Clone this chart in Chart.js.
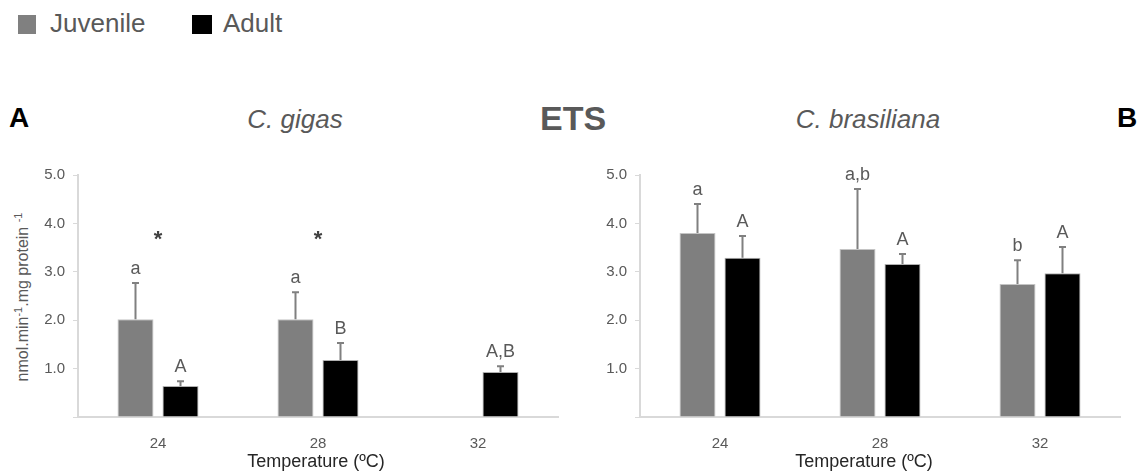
<!DOCTYPE html>
<html>
<head>
<meta charset="utf-8">
<title>ETS – C. gigas and C. brasiliana</title>
<script src="https://cdn.jsdelivr.net/npm/chart.js@4.4.1/dist/chart.umd.min.js"></script>
<style>
  html, body { margin: 0; padding: 0; background: #fff; }
  body {
    width: 1144px; height: 472px; position: relative; overflow: hidden;
    font-family: "Liberation Sans", Arial, Helvetica, sans-serif;
  }
  .panel { position: absolute; top: 0; }
  .txt { position: absolute; line-height: 1; white-space: nowrap; }
  .center { transform: translateX(-50%); }
  .box { position: absolute; }
  #ytitle {
    position: absolute; left: 23px; top: 297px; white-space: nowrap;
    font-size: 16px; line-height: 1; color: #595959;
    transform: translate(-50%, -50%) rotate(-90deg);
  }
  #ytitle sup { font-size: 11px; line-height: 0; vertical-align: 6px; }
</style>
</head>
<body>

<!-- legend -->
<div class="box" style="left:18px;top:15px;width:18px;height:19px;background:#808080"></div>
<div class="txt" style="left:50px;top:10px;font-size:26px;color:#595959">Juvenile</div>
<div class="box" style="left:192px;top:15px;width:20px;height:19px;background:#000"></div>
<div class="txt" style="left:223px;top:10px;font-size:26px;color:#595959">Adult</div>

<!-- headings -->
<div class="txt" style="left:9px;top:104px;font-size:28px;font-weight:bold;color:#000">A</div>
<div class="txt center" style="left:295px;top:106px;font-size:26px;font-style:italic;color:#595959">C. gigas</div>
<div class="txt" style="left:540px;top:101px;font-size:34px;font-weight:bold;color:#595959">ETS</div>
<div class="txt center" style="left:868px;top:106px;font-size:26px;font-style:italic;color:#595959">C. brasiliana</div>
<div class="txt" style="left:1117px;top:104px;font-size:28px;font-weight:bold;color:#000">B</div>

<div id="ytitle">nmol.min<sup>-1</sup>.mg protein <sup>-1</sup></div>

<div class="panel" style="left:0;width:600px;height:472px"><canvas id="chartA" width="600" height="472"></canvas></div>
<div class="panel" style="left:600px;width:544px;height:472px"><canvas id="chartB" width="544" height="472"></canvas></div>

<div class="txt center" style="left:316px;top:452px;font-size:18px;color:#262626">Temperature (ºC)</div>
<div class="txt center" style="left:864px;top:452px;font-size:18px;color:#262626">Temperature (ºC)</div>

<script>
// Temperatures (ºC) on the x axis
const temperatures = ['24', '28', '32'];

// C. gigas – ETS activity (mean and SD); no juveniles at 32 ºC
const gigasJuvenile   = [2.02, 2.02, null];
const gigasJuvenileSD = [0.75, 0.56, null];
const gigasAdult      = [0.64, 1.18, 0.93];
const gigasAdultSD    = [0.10, 0.35, 0.12];
const gigasJuvenileLetters = ['a', 'a', ''];
const gigasAdultLetters    = ['A', 'B', 'A,B'];
const gigasSignificance    = ['*', '*', ''];

// C. brasiliana – ETS activity (mean and SD)
const brasJuvenile   = [3.80, 3.47, 2.75];
const brasJuvenileSD = [0.60, 1.24, 0.49];
const brasAdult      = [3.29, 3.16, 2.97];
const brasAdultSD    = [0.45, 0.21, 0.54];
const brasJuvenileLetters = ['a', 'a,b', 'b'];
const brasAdultLetters    = ['A', 'A', 'A'];
const brasSignificance    = ['', '', ''];

// y axis
const yMin = 0, yMax = 5, yStep = 1;

const FONT = '"Liberation Sans", Arial, Helvetica, sans-serif';
const JUV_COLOR = '#7f7f7f';
const ADULT_COLOR = '#000000';
const AXIS_COLOR = '#d9d9d9';
const STAR_LEVEL = 3.74;   // height (data units) of the significance asterisks

Chart.defaults.font.family = FONT;

// Upper SD whiskers, group letters above them, and asterisks between groups
const errorBarPlugin = {
  id: 'errorBars',
  afterDatasetsDraw(chart, args, opts) {
    const { ctx } = chart;
    const xs = chart.scales.x, ys = chart.scales.y;
    chart.data.datasets.forEach((ds, i) => {
      const meta = chart.getDatasetMeta(i);
      meta.data.forEach((bar, j) => {
        const v = ds.data[j];
        if (v == null) return;
        const top = ys.getPixelForValue(v + ds.sd[j]);
        ctx.save();
        ctx.strokeStyle = '#808080';
        ctx.lineWidth = 2;
        ctx.beginPath();
        ctx.moveTo(bar.x, bar.y);
        ctx.lineTo(bar.x, top);
        ctx.moveTo(bar.x - 3.5, top);
        ctx.lineTo(bar.x + 3.5, top);
        ctx.stroke();
        const letter = ds.letters[j];
        if (letter) {
          ctx.fillStyle = '#595959';
          ctx.font = '18px ' + FONT;
          ctx.textAlign = 'center';
          ctx.textBaseline = 'alphabetic';
          ctx.fillText(letter, bar.x, top - 9);
        }
        ctx.restore();
      });
    });
    (opts.marks || []).forEach((m, j) => {
      if (!m) return;
      ctx.save();
      ctx.fillStyle = '#404040';
      ctx.font = 'bold 22px ' + FONT;
      ctx.textAlign = 'center';
      ctx.textBaseline = 'alphabetic';
      const tm = ctx.measureText(m);
      const cy = ys.getPixelForValue(STAR_LEVEL);
      const base = cy + (tm.actualBoundingBoxAscent - tm.actualBoundingBoxDescent) / 2;
      ctx.fillText(m, xs.getPixelForValue(j), base);
      ctx.restore();
    });
  }
};

function makeChart(id, juv, juvSD, juvLetters, ad, adSD, adLetters, marks, yWidth, rightPad) {
  return new Chart(document.getElementById(id), {
    type: 'bar',
    data: {
      labels: temperatures,
      datasets: [
        { label: 'Juvenile', data: juv, sd: juvSD, letters: juvLetters,
          backgroundColor: JUV_COLOR, borderColor: '#c4c4c4', borderWidth: 1 },
        { label: 'Adult', data: ad, sd: adSD, letters: adLetters,
          backgroundColor: ADULT_COLOR, borderColor: '#b0b0b0', borderWidth: 1 }
      ]
    },
    options: {
      responsive: false,
      animation: false,
      events: [],
      categoryPercentage: 0.5625,
      barPercentage: 0.8,
      layout: { padding: { top: 175, right: rightPad, bottom: 0, left: 0 } },
      plugins: {
        legend: { display: false },
        tooltip: { enabled: false },
        errorBars: { marks: marks }
      },
      scales: {
        x: {
          grid: { display: false },
          border: { display: true, color: AXIS_COLOR, width: 2 },
          ticks: { color: '#595959', font: { size: 15 }, padding: 10 },
          afterFit(s) { s.height = 55; }
        },
        y: {
          min: yMin, max: yMax,
          grid: { display: true, drawOnChartArea: false, drawTicks: true, tickLength: 5,
                  color: AXIS_COLOR, lineWidth: 1 },
          border: { display: true, color: AXIS_COLOR, width: 2 },
          ticks: {
            stepSize: yStep, color: '#595959', font: { size: 15 }, padding: 8,
            callback: v => (v === 0 ? '' : Number(v).toFixed(1))
          },
          afterFit(s) { s.width = yWidth; }
        }
      }
    },
    plugins: [errorBarPlugin]
  });
}

makeChart('chartA', gigasJuvenile, gigasJuvenileSD, gigasJuvenileLetters,
          gigasAdult, gigasAdultSD, gigasAdultLetters, gigasSignificance, 78, 42);
makeChart('chartB', brasJuvenile, brasJuvenileSD, brasJuvenileLetters,
          brasAdult, brasAdultSD, brasAdultLetters, brasSignificance, 40, 24);
</script>
</body>
</html>
